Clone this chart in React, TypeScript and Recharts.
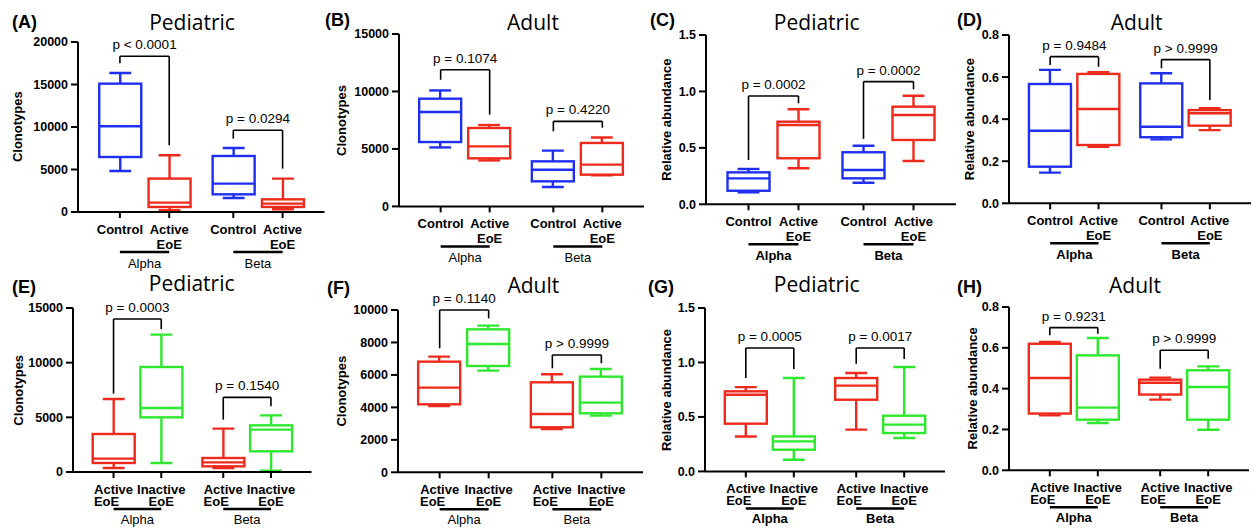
import React from "react";
import { ComposedChart, Bar, XAxis, YAxis, ReferenceLine } from "recharts";

const BLUE = "#1f2ff0";
const RED = "#ee2a1c";
const GREEN = "#2ee82e";
const FONT = "'Liberation Sans', Arial, sans-serif";
const TITLE_FONT = "'Open Sans', 'Noto Sans', sans-serif";

// x positions of the four boxes (two groups of two)
const xPos = [1, 2, 3.3, 4.3];
const groups = ["Alpha", "Beta"];
const ctrlLabels = [["Control"], ["Active", "EoE"], ["Control"], ["Active", "EoE"]];
const activityLabels = [["Active", "EoE"], ["Inactive", "EoE"], ["Active", "EoE"], ["Inactive", "EoE"]];

// box stats: [min, q1, median, q3, max]
const statsA = [
  [4820, 6470, 10080, 15100, 16350],
  [200, 590, 1100, 3930, 6670],
  [1650, 2080, 3340, 6590, 7530],
  [320, 590, 990, 1490, 3930],
];
const statsB = [
  [5130, 5600, 8210, 9370, 10090],
  [4000, 4180, 5220, 6820, 7080],
  [1690, 2180, 3190, 3920, 4850],
  [2700, 2760, 3630, 5520, 6000],
];
const statsC = [
  [0.106, 0.12, 0.23, 0.283, 0.313],
  [0.319, 0.408, 0.703, 0.732, 0.842],
  [0.191, 0.23, 0.304, 0.461, 0.519],
  [0.384, 0.57, 0.791, 0.865, 0.962],
];
const statsD = [
  [0.146, 0.174, 0.345, 0.567, 0.634],
  [0.269, 0.277, 0.448, 0.615, 0.623],
  [0.304, 0.314, 0.364, 0.57, 0.618],
  [0.348, 0.369, 0.428, 0.443, 0.452],
];
const statsE = [
  [366, 823, 1220, 3476, 6677],
  [823, 5000, 5854, 9604, 12561],
  [366, 518, 884, 1280, 3963],
  [122, 1890, 3872, 4268, 5183],
];
const statsF = [
  [4086, 4189, 5216, 6817, 7125],
  [6263, 6550, 7906, 8809, 9035],
  [2669, 2772, 3593, 5544, 6037],
  [3491, 3634, 4292, 5893, 6366],
];
const statsG = [
  [0.321, 0.438, 0.704, 0.735, 0.774],
  [0.107, 0.199, 0.276, 0.321, 0.857],
  [0.383, 0.658, 0.787, 0.857, 0.903],
  [0.306, 0.352, 0.429, 0.511, 0.958],
];
const statsH = [
  [0.269, 0.278, 0.452, 0.62, 0.629],
  [0.232, 0.248, 0.307, 0.563, 0.648],
  [0.346, 0.371, 0.429, 0.444, 0.454],
  [0.199, 0.248, 0.408, 0.49, 0.509],
];

// brackets: [top, left leg end, right leg end, text]
const bracketsA = [[18320, 17490, 7850, "p < 0.0001"], [9610, 8630, 5100, "p = 0.0294"]];
const bracketsB = [[11890, 11020, 7980, "p = 0.1074"], [7400, 6530, 6850, "p = 0.4220"]];
const bracketsC = [[0.96, 0.393, 0.895, "p = 0.0002"], [1.087, 0.58, 1.019, "p = 0.0002"]];
const bracketsD = [[0.697, 0.657, 0.649, "p = 0.9484"], [0.683, 0.642, 0.491, "p > 0.9999"]];
const bracketsE = [[13994, 7165, 13079, "p = 0.0003"], [6829, 4787, 6006, "p = 0.1540"]];
const bracketsF = [[10000, 7639, 9487, "p = 0.1140"], [7228, 6407, 6715, "p > 0.9999"]];
const bracketsG = [[1.133, 0.857, 0.94, "p = 0.0005"], [1.133, 0.989, 1.032, "p = 0.0017"]];
const bracketsH = [[0.699, 0.661, 0.669, "p = 0.9231"], [0.588, 0.498, 0.547, "p > 0.9999"]];

const ticksClono20 = [0, 5000, 10000, 15000, 20000];
const ticksClono15 = [0, 5000, 10000, 15000];
const ticksClono10 = [0, 2000, 4000, 6000, 8000, 10000];
const ticksRel15 = [0, 0.5, 1.0, 1.5];
const ticksRel08 = [0, 0.2, 0.4, 0.6, 0.8];

const ctrlColors = [BLUE, RED, BLUE, RED];
const actColors = [RED, GREEN, RED, GREEN];

const rowOff = [
  { l1: 17.5, l2: 32.5, g: 40, gl: 51 },
  { l1: 17, l2: 29.5, g: 37, gl: 47 },
];

const panels = [
  { letter: "(A)", title: "Pediatric", stats: statsA, br: bracketsA, ticks: ticksClono20, rel: false, labels: ctrlLabels, colors: ctrlColors, yLabel: "Clonotypes",
    axisX: 78, top: 41.7, bottom: 211.7, s: 49.3, yl: 60, tx: 192, ty: 22, lx: 12, ly: 22, row: 0, boldGroup: false },
  { letter: "(B)", title: "Adult", stats: statsB, br: bracketsB, ticks: ticksClono15, rel: false, labels: ctrlLabels, colors: ctrlColors, yLabel: "Clonotypes",
    axisX: 399.3, top: 34.3, bottom: 206.7, s: 49, yl: 57.6, tx: 533, ty: 22, lx: 325, ly: 20, row: 0, boldGroup: false },
  { letter: "(C)", title: "Pediatric", stats: statsC, br: bracketsC, ticks: ticksRel15, rel: true, labels: ctrlLabels, colors: ctrlColors, yLabel: "Relative abundance",
    axisX: 706, top: 35, bottom: 204.3, s: 50, yl: 39.3, tx: 816.7, ty: 22, lx: 650, ly: 20, row: 0, boldGroup: true },
  { letter: "(D)", title: "Adult", stats: statsD, br: bracketsD, ticks: ticksRel08, rel: true, labels: ctrlLabels, colors: ctrlColors, yLabel: "Relative abundance",
    axisX: 1009.3, top: 35, bottom: 203.3, s: 48.4, yl: 39.3, tx: 1136.7, ty: 22, lx: 957, ly: 20, row: 0, boldGroup: true },
  { letter: "(E)", title: "Pediatric", stats: statsE, br: bracketsE, ticks: ticksClono15, rel: false, labels: activityLabels, colors: actColors, yLabel: "Clonotypes",
    axisX: 72.7, top: 308.3, bottom: 472.3, s: 47.7, yl: 54.4, tx: 191.7, ty: 283.3, lx: 12, ly: 286.7, row: 1, boldGroup: false },
  { letter: "(F)", title: "Adult", stats: statsF, br: bracketsF, ticks: ticksClono10, rel: false, labels: activityLabels, colors: actColors, yLabel: "Clonotypes",
    axisX: 397.7, top: 310, bottom: 472.3, s: 49, yl: 56, tx: 533.3, ty: 285, lx: 327, ly: 288.3, row: 1, boldGroup: false },
  { letter: "(G)", title: "Pediatric", stats: statsG, br: bracketsG, ticks: ticksRel15, rel: true, labels: activityLabels, colors: actColors, yLabel: "Relative abundance",
    axisX: 705, top: 308.3, bottom: 471.7, s: 48, yl: 38.3, tx: 816.7, ty: 284, lx: 648, ly: 286.7, row: 1, boldGroup: true },
  { letter: "(H)", title: "Adult", stats: statsH, br: bracketsH, ticks: ticksRel08, rel: true, labels: activityLabels, colors: actColors, yLabel: "Relative abundance",
    axisX: 1009.3, top: 306.7, bottom: 470, s: 48, yl: 36.6, tx: 1135, ty: 285, lx: 957, ly: 286.7, row: 1, boldGroup: true },
];

const BoxShape = (props: any) => {
  const { x, y, width, height, payload } = props;
  const [mn, q1, md, q3, mx] = payload.st;
  const top = Math.min(y, y + height);
  const bot = Math.max(y, y + height);
  const py = (v: number) => bot - ((v - mn) / (mx - mn)) * (bot - top);
  const cx = x + width / 2;
  const cap = width * 0.26;
  return (
    <g stroke={payload.color} strokeWidth={2.4} fill="none">
      <line x1={cx} x2={cx} y1={py(mx)} y2={py(q3)} />
      <line x1={cx} x2={cx} y1={py(q1)} y2={py(mn)} />
      <line x1={cx - cap} x2={cx + cap} y1={py(mx)} y2={py(mx)} />
      <line x1={cx - cap} x2={cx + cap} y1={py(mn)} y2={py(mn)} />
      <rect x={x} y={py(q3)} width={width} height={py(q1) - py(q3)} />
      <line x1={x} x2={x + width} y1={py(md)} y2={py(md)} />
    </g>
  );
};

const CatTick = (props: any) => {
  const { x, y, payload, p } = props;
  const i = xPos.indexOf(payload.value);
  if (i < 0) return null;
  const lines = p.labels[i];
  const o = rowOff[p.row];
  const base = y - 6;
  const txt = { fontFamily: FONT, fontWeight: 700, fontSize: 13, fill: "#000" };
  const eoeDx = p.row === 1 && i % 2 === 0 ? -7 : 0;
  return (
    <g>
      {lines.map((t: string, k: number) => (
        <text key={k} x={x + (k === 1 ? eoeDx : 0)} y={base + (k === 0 ? o.l1 : o.l2)} textAnchor="middle" dominantBaseline="central" {...txt}>
          {t}
        </text>
      ))}
      {i % 2 === 0 && (
        <g>
          <line x1={x} x2={x + p.s} y1={base + o.g} y2={base + o.g} stroke="#000" strokeWidth={2.5} />
          <text x={x + p.s / 2} y={base + o.gl} textAnchor="middle" dominantBaseline="central"
            fontFamily={FONT} fontWeight={p.boldGroup ? 700 : 400} fontSize={13} fill="#000">
            {groups[i / 2]}
          </text>
        </g>
      )}
    </g>
  );
};

const Panel = ({ p }: any) => {
  const ML = 80, MT = 40, MB = 62, MR = 8;
  const plotW = p.s * 5;
  const plotH = p.bottom - p.top;
  const width = ML + plotW + MR;
  const height = MT + plotH + MB;
  const data = p.stats.map((st: number[], i: number) => ({ x: xPos[i], range: [st[0], st[4]], st, color: p.colors[i] }));
  const yMax = p.ticks[p.ticks.length - 1];
  const brStyle = { stroke: "#000", strokeWidth: 1.6, ifOverflow: "visible" as const };
  return (
    <div style={{ position: "absolute", left: p.axisX - ML, top: p.top - MT }}>
      <ComposedChart width={width} height={height} data={data} margin={{ top: MT, right: MR, bottom: 0, left: 0 }}>
        <XAxis
          dataKey="x"
          type="number"
          domain={[0.15, 5.15]}
          ticks={xPos}
          allowDataOverflow
          height={MB}
          stroke="#000"
          axisLine={{ stroke: "#000", strokeWidth: 2 }}
          tickLine={{ stroke: "#000", strokeWidth: 2 }}
          tickSize={6}
          tickMargin={0}
          interval={0}
          tick={(tp: any) => <CatTick {...tp} p={p} />}
        />
        <YAxis
          width={ML}
          type="number"
          domain={[0, yMax]}
          ticks={p.ticks}
          interval={0}
          axisLine={{ stroke: "#000", strokeWidth: 2 }}
          tickLine={{ stroke: "#000", strokeWidth: 2 }}
          tickSize={7}
          tickMargin={3}
          tick={{ fill: "#000", fontSize: 12.5, fontWeight: 700, fontFamily: FONT }}
          tickFormatter={(v: number) => (p.rel ? v.toFixed(1) : String(v))}
        />
        <Bar dataKey="range" barSize={42} shape={BoxShape} isAnimationActive={false} />
        {p.br.map((b: any, g: number) => {
          const xl = xPos[2 * g];
          const xr = xPos[2 * g + 1];
          return [
            <ReferenceLine key={`l${g}`} segment={[{ x: xl, y: b[1] }, { x: xl, y: b[0] }]} {...brStyle} />,
            <ReferenceLine key={`r${g}`} segment={[{ x: xr, y: b[0] }, { x: xr, y: b[2] }]} {...brStyle} />,
            <ReferenceLine
              key={`t${g}`}
              segment={[{ x: xl, y: b[0] }, { x: xr, y: b[0] }]}
              {...brStyle}
              label={{ value: b[3], position: "top", offset: 7, fontSize: 13.5, fill: "#000", fontFamily: FONT }}
            />,
          ];
        })}
      </ComposedChart>
    </div>
  );
};

export default function App() {
  return (
    <div style={{ position: "absolute", left: 0, top: 0, width: 1259, height: 531, background: "#fff", overflow: "hidden" }}>
      {panels.map((p, i) => (
        <Panel key={i} p={p} />
      ))}
      <svg width={1259} height={531} style={{ position: "absolute", left: 0, top: 0, pointerEvents: "none" }}>
        {panels.map((p, i) => (
          <g key={i}>
            <text x={p.lx} y={p.ly} dominantBaseline="central" fontFamily={FONT} fontWeight={700} fontSize={18} fill="#000">
              {p.letter}
            </text>
            <text x={p.tx} y={p.ty} textAnchor="middle" dominantBaseline="central" fontFamily={TITLE_FONT} fontSize={21} fill="#000">
              {p.title}
            </text>
            <text
              x={p.axisX - p.yl}
              y={(p.top + p.bottom) / 2}
              transform={`rotate(-90 ${p.axisX - p.yl} ${(p.top + p.bottom) / 2})`}
              textAnchor="middle"
              dominantBaseline="central"
              fontFamily={FONT}
              fontWeight={700}
              fontSize={13}
              fill="#000"
            >
              {p.yLabel}
            </text>
          </g>
        ))}
      </svg>
    </div>
  );
}
